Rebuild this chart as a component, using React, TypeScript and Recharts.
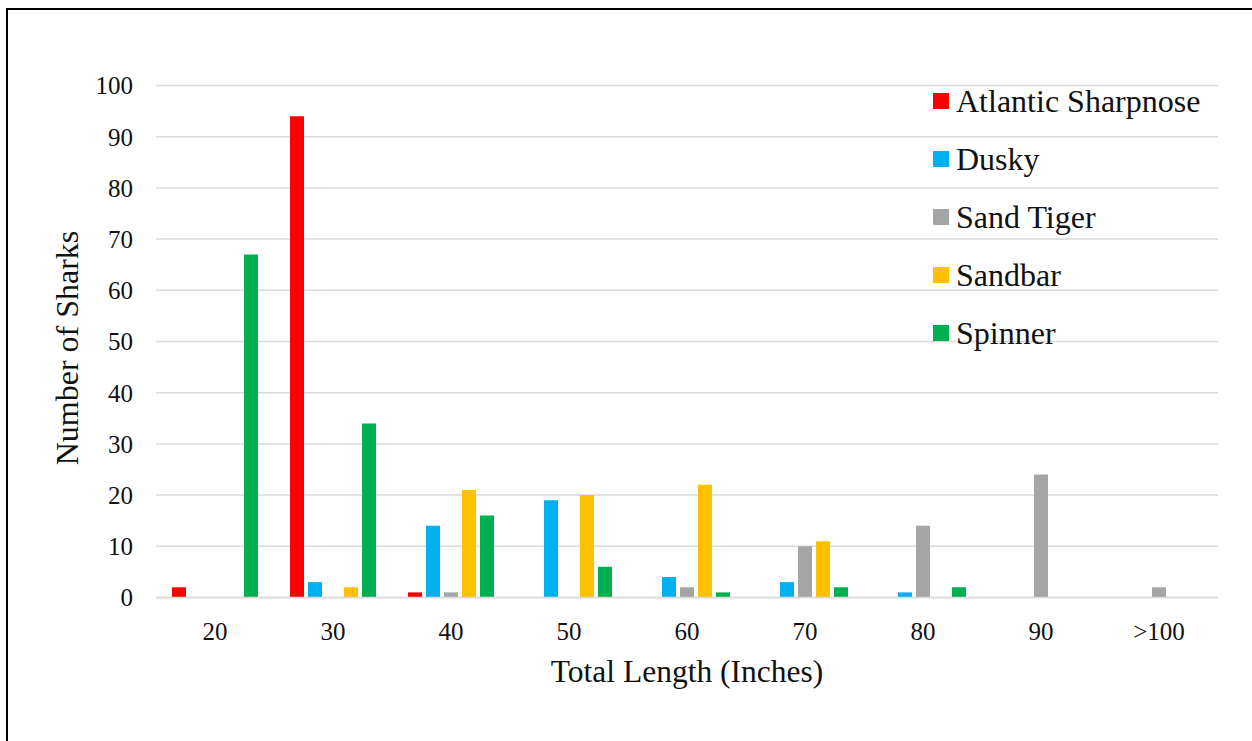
import React from 'react';
import { BarChart, Bar, XAxis, YAxis, CartesianGrid, Legend, Label } from 'recharts';

const categories = ['20', '30', '40', '50', '60', '70', '80', '90', '>100'];
const atlanticSharpnose = [2, 94, 1, 0, 0, 0, 0, 0, 0];
const dusky = [0, 3, 14, 19, 4, 3, 1, 0, 0];
const sandTiger = [0, 0, 1, 0, 2, 10, 14, 24, 2];
const sandbar = [0, 2, 21, 20, 22, 11, 0, 0, 0];
const spinner = [67, 34, 16, 6, 1, 2, 2, 0, 0];
const yTicks = [0, 10, 20, 30, 40, 50, 60, 70, 80, 90, 100];

const seriesNames = ['Atlantic Sharpnose', 'Dusky', 'Sand Tiger', 'Sandbar', 'Spinner'];
const seriesColors = ['#FF0000', '#00B0F0', '#A5A5A5', '#FFC000', '#00B050'];
const seriesValues = [atlanticSharpnose, dusky, sandTiger, sandbar, spinner];

const data = categories.map((c, i) => {
  const row: Record<string, string | number> = { category: c };
  seriesNames.forEach((n, k) => {
    row[n] = seriesValues[k][i];
  });
  return row;
});

const FONT = '"Liberation Serif", "Times New Roman", serif';

const renderLegend = (props: any) => {
  const payload = props.payload || [];
  return (
    <div style={{ fontFamily: FONT }}>
      {payload.map((entry: any) => (
        <div
          key={entry.value}
          style={{ display: 'flex', alignItems: 'center', height: 58, lineHeight: '58px' }}
        >
          <span
            style={{ display: 'inline-block', width: 16, height: 16, background: entry.color, marginRight: 7 }}
          />
          <span style={{ fontSize: 32, color: '#111', whiteSpace: 'nowrap' }}>{entry.value}</span>
        </div>
      ))}
    </div>
  );
};

export default function App() {
  return (
    <div style={{ position: 'absolute', left: 0, top: 0, width: 1252, height: 741, background: '#fff' }}>
      <div
        style={{
          position: 'absolute',
          left: 6,
          top: 8,
          width: 1260,
          height: 760,
          borderLeft: '2px solid #000',
          borderTop: '2px solid #000',
        }}
      />
      <BarChart
        width={1252}
        height={741}
        data={data}
        margin={{ top: 85.5, right: 34, bottom: 43.5, left: 0 }}
        barSize={14}
        barGap={4}
        style={{ position: 'absolute', left: 0, top: 0 }}
      >
        <CartesianGrid horizontal vertical={false} stroke="#D9D9D9" strokeWidth={1.5} />
        <XAxis
          dataKey="category"
          height={100}
          tickLine={false}
          tickSize={0}
          tickMargin={24.5}
          axisLine={{ stroke: '#D9D9D9', strokeWidth: 1.5 }}
          tick={{ fontSize: 25, fill: '#111', fontFamily: FONT }}
          interval={0}
        >
          <Label
            value="Total Length (Inches)"
            position="insideBottom"
            offset={15.5}
            style={{ fontSize: 31.5, fill: '#111', fontFamily: FONT }}
          />
        </XAxis>
        <YAxis
          width={156}
          domain={[0, 100]}
          ticks={yTicks}
          interval={0}
          tickLine={false}
          axisLine={false}
          tickSize={0}
          tickMargin={23}
          tick={{ fontSize: 25, fill: '#111', fontFamily: FONT }}
        >
          <Label
            content={() => (
              <text
                x={78}
                y={348}
                transform="rotate(-90 78 348)"
                textAnchor="middle"
                style={{ fontSize: 32, fill: '#111', fontFamily: FONT }}
              >
                Number of Sharks
              </text>
            )}
          />
        </YAxis>
        <Legend
          layout="vertical"
          align="center"
          verticalAlign="middle"
          content={renderLegend}
          wrapperStyle={{ left: 933, top: 72, width: 300 }}
        />
        {seriesNames.map((n, k) => (
          <Bar key={n} dataKey={n} name={n} fill={seriesColors[k]} isAnimationActive={false} />
        ))}
      </BarChart>
    </div>
  );
}
